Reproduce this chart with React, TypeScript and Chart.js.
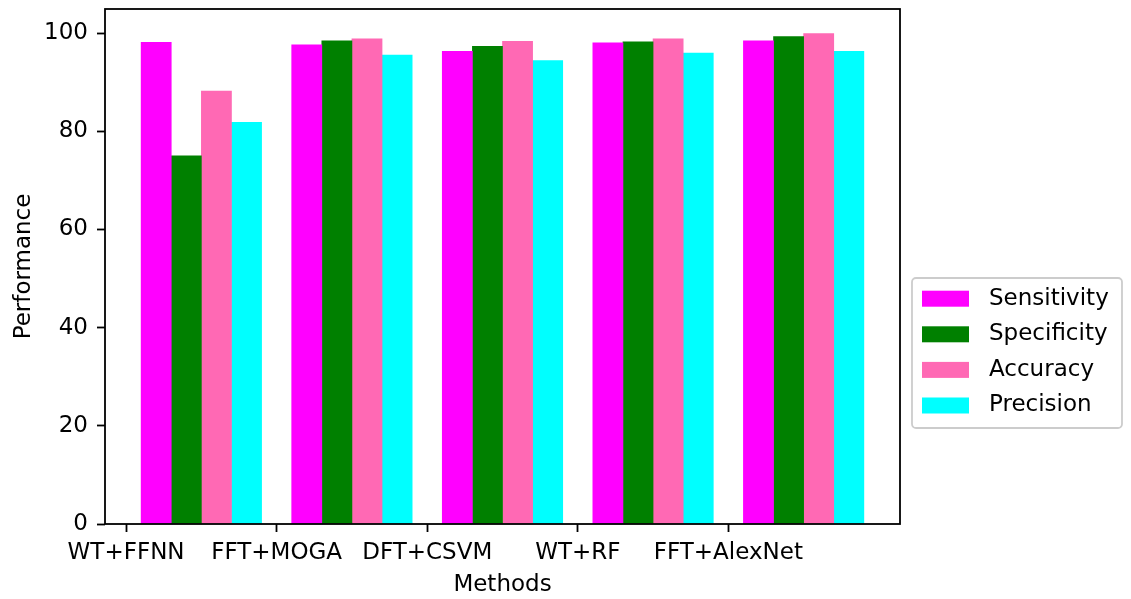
import React, { useEffect, useRef } from "react";
import { Chart, registerables } from "chart.js";

Chart.register(...registerables);

const methods = ["WT+FFNN", "FFT+MOGA", "DFT+CSVM", "WT+RF", "FFT+AlexNet"];
const seriesNames = ["Sensitivity", "Specificity", "Accuracy", "Precision"];
const seriesColors = ["#ff00ff", "#008000", "#ff69b4", "#00ffff"];
const sensitivity = [98.1, 97.6, 96.3, 98.0, 98.4];
const specificity = [75.0, 98.4, 97.3, 98.2, 99.3];
const accuracy = [88.2, 98.8, 98.3, 98.8, 99.9];
const precision = [81.8, 95.5, 94.4, 95.9, 96.3];
const yTicks = [0, 20, 40, 60, 80, 100];

const barWidth = 0.2;
const FONT = "'DejaVu Sans', sans-serif";

const frameAndLegend = {
  id: "frameAndLegend",
  afterDraw(chart: any) {
    const { ctx, chartArea } = chart;
    ctx.save();
    ctx.strokeStyle = "#000";
    ctx.lineWidth = 1.8;
    ctx.strokeRect(
      chartArea.left,
      chartArea.top,
      chartArea.right - chartArea.left,
      chartArea.bottom - chartArea.top
    );

    // legend
    const bx = chartArea.right + 12;
    const bw = 210;
    const bh = 150;
    const by = 278;
    const r = 4;
    ctx.beginPath();
    ctx.moveTo(bx + r, by);
    ctx.lineTo(bx + bw - r, by);
    ctx.arcTo(bx + bw, by, bx + bw, by + r, r);
    ctx.lineTo(bx + bw, by + bh - r);
    ctx.arcTo(bx + bw, by + bh, bx + bw - r, by + bh, r);
    ctx.lineTo(bx + r, by + bh);
    ctx.arcTo(bx, by + bh, bx, by + bh - r, r);
    ctx.lineTo(bx, by + r);
    ctx.arcTo(bx, by, bx + r, by, r);
    ctx.closePath();
    ctx.fillStyle = "rgba(255,255,255,0.8)";
    ctx.fill();
    ctx.strokeStyle = "#cccccc";
    ctx.lineWidth = 1.8;
    ctx.stroke();

    ctx.font = `23px ${FONT}`;
    ctx.textBaseline = "middle";
    ctx.textAlign = "left";
    chart.data.datasets.forEach((ds: any, i: number) => {
      const cy = by + 20.7 + i * 35.6;
      ctx.fillStyle = ds.backgroundColor;
      ctx.fillRect(bx + 10, cy - 8, 47, 16);
      ctx.fillStyle = "#000";
      ctx.fillText(ds.label, bx + 77, cy);
    });
    ctx.restore();
  },
};

export default function App() {
  const ref = useRef<HTMLCanvasElement>(null);

  useEffect(() => {
    if (!ref.current) return;
    const all = [sensitivity, specificity, accuracy, precision];
    const datasets = all.map((vals, k) => ({
      label: seriesNames[k],
      data: vals.map((v, i) => ({ x: i + barWidth * (k + 1), y: v })),
      backgroundColor: seriesColors[k],
      borderWidth: 0,
      grouped: false,
      categoryPercentage: 1,
      barPercentage: 1,
    }));
    const chart = new Chart(ref.current, {
      type: "bar",
      data: { datasets },
      plugins: [frameAndLegend],
      options: {
        animation: false,
        responsive: false,
        maintainAspectRatio: false,
        layout: { padding: { top: 9, right: 231, left: 0, bottom: 0 } },
        plugins: { legend: { display: false }, tooltip: { enabled: false } },
        scales: {
          x: {
            type: "linear",
            offset: false,
            min: 0.1 - 0.24,
            max: 4.9 + 0.24,
            afterBuildTicks: (scale: any) => {
              scale.ticks = methods.map((_, i) => ({ value: i }));
            },
            afterFit: (scale: any) => {
              scale.height = 75;
              scale.paddingLeft = 0;
              scale.paddingRight = 0;
            },
            ticks: {
              includeBounds: false,
              autoSkip: false,
              maxRotation: 0,
              padding: 7,
              color: "#000",
              font: { family: FONT, size: 23 },
              callback: (v: any) => methods[v] ?? "",
            },
            grid: {
              offset: false,
              drawOnChartArea: false,
              drawTicks: true,
              tickLength: 8,
              tickWidth: 1.8,
              tickColor: "#000",
            },
            border: { display: false },
            title: {
              display: true,
              text: "Methods",
              color: "#000",
              font: { family: FONT, size: 23 },
              padding: { top: 0, bottom: 0 },
            },
          },
          y: {
            type: "linear",
            min: 0,
            max: 104.9,
            afterBuildTicks: (scale: any) => {
              scale.ticks = yTicks.map((v) => ({ value: v }));
            },
            afterFit: (scale: any) => {
              scale.width = 105;
              scale.paddingTop = 0;
              scale.paddingBottom = 0;
            },
            ticks: {
              includeBounds: false,
              padding: 9,
              color: "#000",
              font: { family: FONT, size: 23 },
            },
            grid: {
              drawOnChartArea: false,
              drawTicks: true,
              tickLength: 8,
              tickWidth: 1.8,
              tickColor: "#000",
            },
            border: { display: false },
            title: {
              display: true,
              text: "Performance",
              color: "#000",
              font: { family: FONT, size: 23 },
              padding: { top: 10, bottom: 0 },
            },
          },
        },
      } as any,
    });
    return () => chart.destroy();
  }, []);

  return (
    <div style={{ position: "absolute", left: 0, top: 0, width: 1131, height: 599, background: "#fff" }}>
      <canvas ref={ref} width={1131} height={599} />
    </div>
  );
}
